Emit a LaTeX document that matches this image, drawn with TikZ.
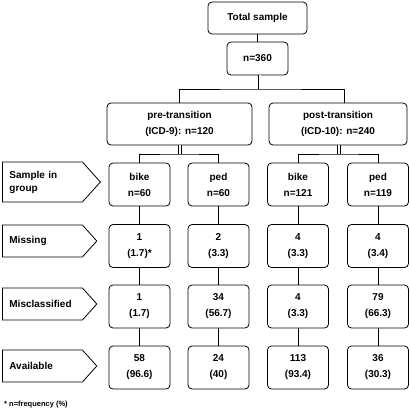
\documentclass[tikz,border=0pt]{standalone}
\usepackage{fontspec}
\setmainfont{Liberation Sans}
\usetikzlibrary{positioning, shapes.symbols}

\begin{document}
\begin{tikzpicture}[
    x=1pt, y=-1pt,
    box/.style={
        draw,
        line width=0.8pt,
        rounded corners=4pt,
        font=\bfseries\fontsize{10}{16}\selectfont,
        align=center,
        inner sep=0pt,
        minimum width=#1
    },
    box/.default=60pt,
    cell/.style={box=61pt, minimum height=43pt},
    rowlbl/.style={
        draw,
        line width=0.8pt,
        signal, signal to=east,
        signal pointer angle=96,
        font=\bfseries\fontsize{10}{13}\selectfont,
        text width=66pt,
        align=left,
        inner xsep=7pt,
        inner ysep=0pt,
        minimum height=32pt,
        anchor=west
    },
    link/.style={line width=0.8pt},
    dbl/.style={line width=0.8pt, double, double distance=2pt},
    note/.style={font=\bfseries\fontsize{7.5}{9}\selectfont, anchor=west, inner sep=0pt}
]
\useasboundingbox (0,0) rectangle (410,413);

% === Top ===
\node[box=99pt, minimum height=32pt] (total) at (257.5,18) {Total sample};
\node[box=61pt, minimum height=33pt] (n360) at (257.5,58.5) {n=360};

% === Periods ===
\node[box=145pt, minimum height=42pt] (pre) at (179.5,124) {pre-transition\\(ICD-9): n=120};
\node[box=138pt, minimum height=42pt] (post) at (338,124) {post-transition\\(ICD-10): n=240};

% === Sample in group ===
\node[cell] (bikeA) at (139.5,184.5) {bike\\n=60};
\node[cell] (pedA) at (218.5,184.5) {ped\\n=60};
\node[cell] (bikeB) at (298,184.5) {bike\\n=121};
\node[cell] (pedB) at (378,184.5) {ped\\n=119};

% === Missing ===
\node[cell] (bikeAmis) at (139.5,246) {1\\(1.7)*};
\node[cell] (pedAmis) at (218.5,246) {2\\(3.3)};
\node[cell] (bikeBmis) at (298,246) {4\\(3.3)};
\node[cell] (pedBmis) at (378,246) {4\\(3.4)};

% === Misclassified ===
\node[cell] (bikeAmc) at (139.5,306.5) {1\\(1.7)};
\node[cell] (pedAmc) at (218.5,306.5) {34\\(56.7)};
\node[cell] (bikeBmc) at (298,306.5) {4\\(3.3)};
\node[cell] (pedBmc) at (378,306.5) {79\\(66.3)};

% === Available ===
\node[cell] (bikeAav) at (139.5,367.5) {58\\(96.6)};
\node[cell] (pedAav) at (218.5,367.5) {24\\(40)};
\node[cell] (bikeBav) at (298,367.5) {113\\(93.4)};
\node[cell] (pedBav) at (378,367.5) {36\\(30.3)};

% === Row labels ===
\node[rowlbl, minimum height=40pt] (lsample) at (2,182) {Sample in\\group};
\node[rowlbl] (lmis) at (2,241) {Missing};
\node[rowlbl] (lmc) at (2,304) {Misclassified};
\node[rowlbl] (lav) at (2,366) {Available};

\node[note] (foot) at (4,405) {* n=frequency (\%)};

% === Connectors ===
\coordinate (split0) at (259.5,89);
\coordinate (splitA) at (180,154);
\coordinate (splitB) at (339,154);

\draw[link] (total) -- (n360);
\draw[dbl] (n360.south -| split0) -- (split0);
\draw[link] (pre.north) |- (split0) -| ([xshift=6pt]post.north);

\draw[dbl] (pre.south -| splitA) -- (splitA);
\draw[link] (bikeA.north) |- (splitA) -| (pedA.north);
\draw[dbl] (post.south -| splitB) -- (splitB);
\draw[link] (bikeB.north) |- (splitB) -| (pedB.north);

\foreach \c in {bikeA, pedA, bikeB, pedB} {
    \draw[link] (\c) -- (\c mis);
    \draw[link] (\c mis) -- (\c mc);
    \draw[link] (\c mc) -- (\c av);
}

\end{tikzpicture}
\end{document}
